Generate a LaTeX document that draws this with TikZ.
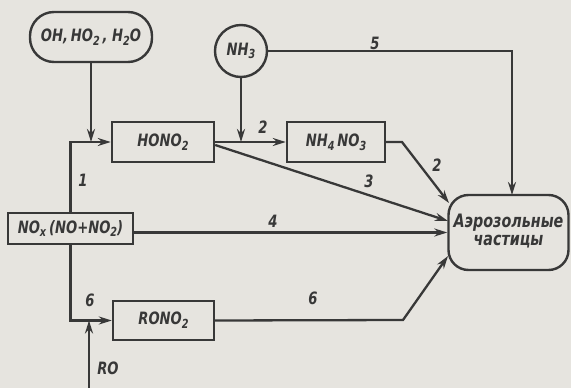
\documentclass[tikz,border=0pt]{standalone}
\usepackage{fontspec}
\setmainfont[FakeStretch=0.86]{DejaVu Sans Condensed}
\usetikzlibrary{arrows.meta}
\definecolor{bg}{HTML}{E6E4DF}
\definecolor{ink}{HTML}{383838}
\newcommand{\subs}[1]{\raisebox{-0.4ex}{\fontsize{12.5}{12}\selectfont #1}}
\tikzset{
  box/.style={draw=ink, line width=2.4pt, inner sep=0pt, align=center, text=ink,
    font=\fontsize{17}{19}\selectfont\bfseries\itshape},
  conn/.style={draw=ink, line width=2.3pt},
  arr/.style={conn, -{Stealth[length=13pt,width=8pt]}},
  lbl/.style={text=ink, inner sep=0pt, font=\fontsize{17}{19}\selectfont\bfseries\itshape},
}
\begin{document}
\begin{tikzpicture}[x=1pt,y=-1pt]
\fill[bg] (0,0) rectangle (571,388);
\useasboundingbox (0,0) rectangle (571,388);

\node[box, rounded corners=24pt, minimum width=122pt, minimum height=50pt] (src) at (91,37) {OH,\,HO\subs{2}\,, H\subs{2}O};
\node[box, circle, minimum size=52pt] (nh3) at (241,51) {NH\subs{3}};
\node[box, minimum width=102pt, minimum height=40pt] (hono) at (163,142) {HONO\subs{2}};
\node[box, minimum width=98pt, minimum height=40pt] (nhno) at (336,142) {NH\subs{4}\,NO\subs{3}};
\node[box, minimum width=125pt, minimum height=31pt] (nox) at (70.5,228.5) {NO\subs{x}\,(NO+NO\subs{2})};
\node[box, minimum width=101pt, minimum height=39pt] (rono) at (163.5,320.5) {RONO\subs{2}};
\node[box, rounded corners=20pt, minimum width=120pt, minimum height=75pt, font=\fontsize{18.5}{21}\selectfont\bfseries\itshape] (aer) at (508.5,232.5)
  {\raisebox{-15pt}{\begin{tabular}{@{}c@{}}Аэрозольные\\[-3pt]частицы\end{tabular}}};

\coordinate (a2) at (449,203);
\coordinate (a3) at (448,221);
\coordinate (a6) at (448,256);
\coordinate (k2) at (402,142);
\coordinate (k6) at (403,320);
\coordinate (ro) at (89,388);
\coordinate (top5) at (512,195);

\draw[arr] (nox.north) |- (hono.west);
\draw[arr] (src.south) -- (src.south |- hono.west);
\draw[arr] (nh3.south) -- (nh3.south |- hono.east);
\draw[arr] (hono.east) -- (nhno.west);
\draw[arr] (nh3.east) -| (top5);
\draw[arr] ([yshift=-3pt]hono.east) -- (a3);
\draw[arr] (nhno.east) -- (k2) -- (a2);
\draw[arr] ([yshift=-4pt]nox.east) -- ([yshift=-4pt]nox.east -| aer.west);
\draw[arr] (nox.south) |- (rono.west);
\draw[arr] (ro) -- (ro |- rono.west);
\draw[arr] (rono.east) -- (k6) -- (a6);

\node[lbl] (l1) at (83,180) {1};
\node[lbl] (l2a) at (263,127) {2};
\node[lbl] (l5) at (375,43) {5};
\node[lbl] (l3) at (369,181) {3};
\node[lbl] (l2b) at (437,165) {2};
\node[lbl] (l4) at (273,221) {4};
\node[lbl] (l6a) at (90,300) {6};
\node[lbl] (l6b) at (313,298) {6};
\node[lbl] (lro) at (108,368) {RO};
\end{tikzpicture}
\end{document}
